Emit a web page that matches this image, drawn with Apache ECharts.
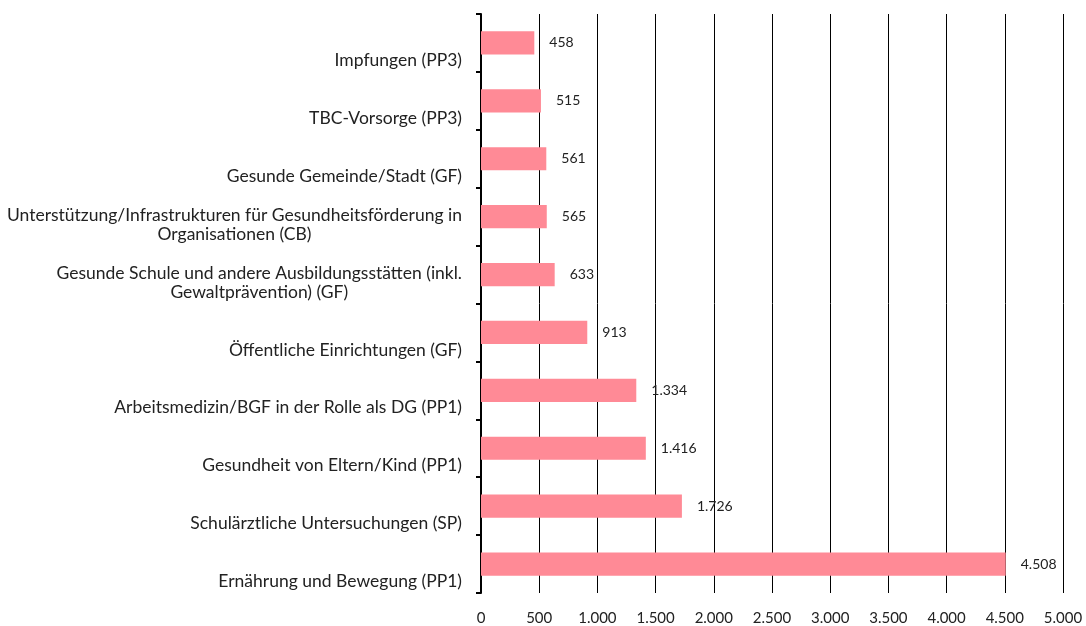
<!DOCTYPE html>
<html>
<head>
<meta charset="utf-8">
<script src="https://cdn.jsdelivr.net/npm/echarts@6/dist/echarts.min.js"></script>
<style>
  html, body { margin: 0; padding: 0; background: #fff; }
  #chart { width: 1086px; height: 626px; }
</style>
</head>
<body>
<div id="chart"></div>
<script>
// Kategorien von unten nach oben (wie im Original)
var categories = [
  'Ernährung und Bewegung (PP1)',
  'Schulärztliche Untersuchungen (SP)',
  'Gesundheit von Eltern/Kind (PP1)',
  'Arbeitsmedizin/BGF in der Rolle als DG (PP1)',
  'Öffentliche Einrichtungen (GF)',
  'Gesunde Schule und andere Ausbildungsstätten (inkl.\nGewaltprävention) (GF)',
  'Unterstützung/Infrastrukturen für Gesundheitsförderung in\nOrganisationen (CB)',
  'Gesunde Gemeinde/Stadt (GF)',
  'TBC-Vorsorge (PP3)',
  'Impfungen (PP3)'
]
var values = [4508, 1726, 1416, 1334, 913, 633, 565, 561, 515, 458]
var xTicks = [0, 5000, 500] // min, max, interval

var FONT = 'Lato'

// deutsche Tausendertrennung
function fmt (v) {
  return String(v).replace(/\B(?=(\d{3})+(?!\d))/g, '.')
}

var chart = echarts.init(document.getElementById('chart'))
chart.setOption({
  animation: false,
  grid: { left: 481, right: 23, top: 14, bottom: 33, containLabel: false, outerBoundsMode: 'none' },
  xAxis: {
    type: 'value',
    min: xTicks[0],
    max: xTicks[1],
    interval: xTicks[2],
    axisLine: { show: false },
    axisTick: { show: false },
    splitLine: { show: true, lineStyle: { color: '#000', width: 1 } },
    axisLabel: {
      margin: 18,
      fontFamily: FONT,
      fontSize: 15,
      color: '#222',
      formatter: fmt
    }
  },
  yAxis: [
    {
      type: 'category',
      data: categories,
      position: 'left',
      axisLine: { show: true, lineStyle: { color: '#000', width: 2 } },
      axisTick: { show: true, length: 5, lineStyle: { color: '#000', width: 2 } },
      axisLabel: { show: false },
      splitLine: { show: false }
    },
    {
      // nur für die Beschriftung, an den unteren Kategoriegrenzen ausgerichtet
      type: 'category',
      data: categories.concat(['']),
      boundaryGap: false,
      position: 'left',
      axisLine: { show: false },
      axisTick: { show: false },
      splitLine: { show: false },
      axisLabel: {
        interval: 0,
        margin: 19,
        align: 'right',
        verticalAlign: 'bottom',
        padding: [0, 0, 2, 0],
        formatter: function (v) {
          return v.split('\n').map(function (l) { return '{c|' + l + '}' }).join('\n')
        },
        rich: {
          c: {
            align: 'center',
            fontFamily: FONT,
            fontSize: 17.5,
            lineHeight: 19,
            color: '#222'
          }
        }
      }
    }
  ],
  series: [
    {
      type: 'bar',
      yAxisIndex: 0,
      data: values,
      barWidth: '40%',
      itemStyle: { color: '#FF8A96' },
      label: {
        show: true,
        position: 'right',
        distance: 15,
        fontFamily: FONT,
        fontSize: 14,
        color: '#222',
        formatter: function (p) { return fmt(p.value) }
      }
    }
  ]
})
</script>
</body>
</html>
